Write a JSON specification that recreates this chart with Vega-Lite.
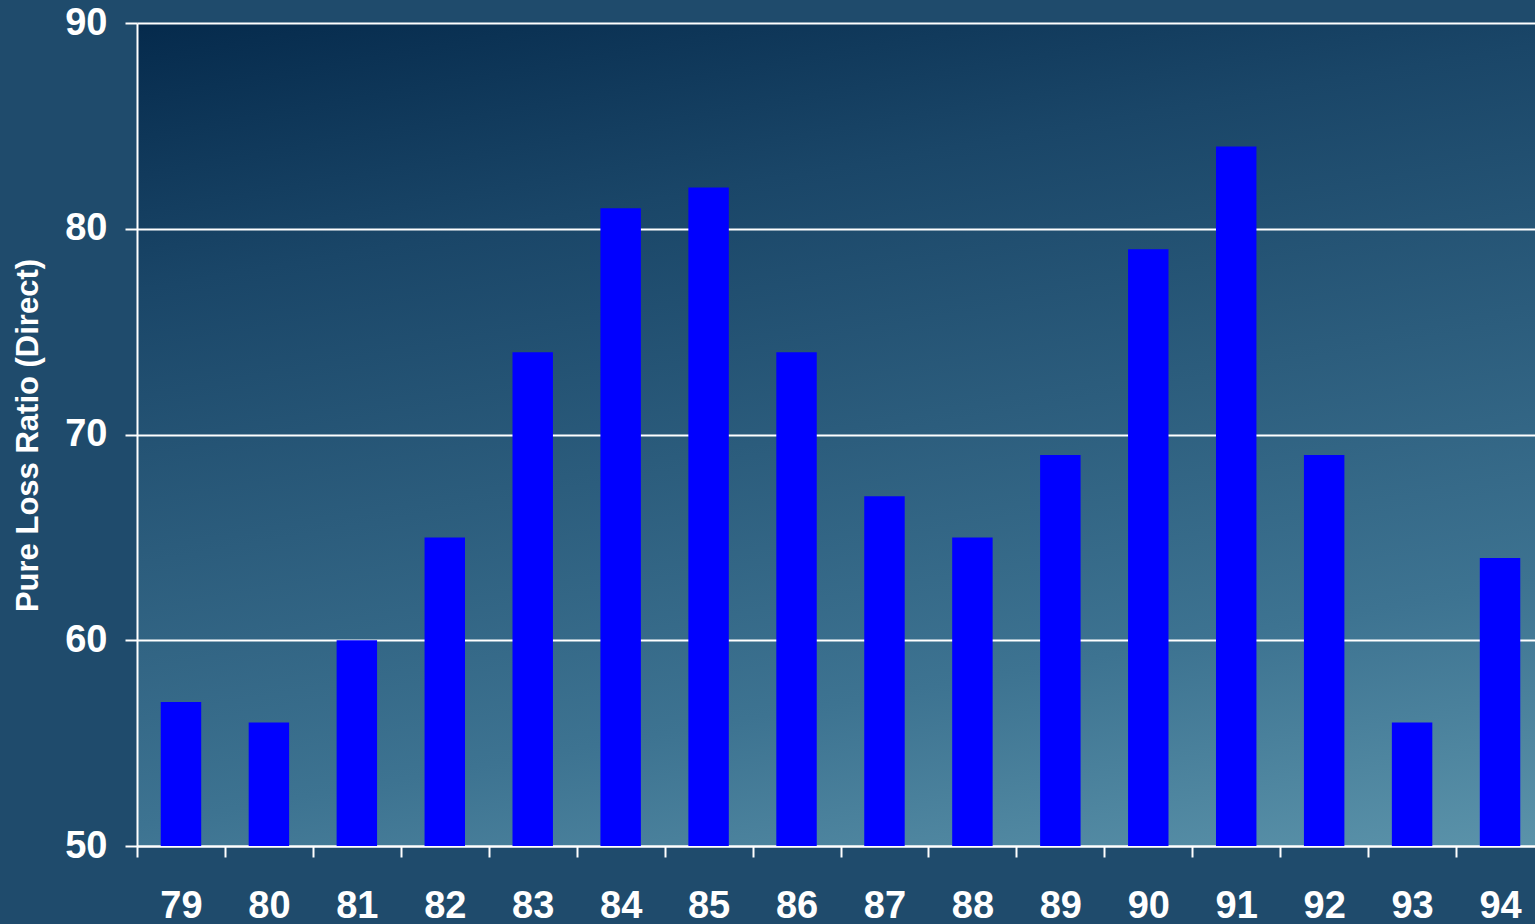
{
  "$schema": "https://vega.github.io/schema/vega-lite/v6.json",
  "autosize": {"type": "none"},
  "padding": {"left": 137, "top": 23, "right": 0, "bottom": 78},
  "width": 1407,
  "height": 823,
  "background": "#1f4b6c",
  "config": {
    "view": {
      "stroke": null,
      "fill": {
        "gradient": "linear",
        "x1": 0, "y1": 0, "x2": 0.358, "y2": 1.193,
        "stops": [
          {"offset": 0, "color": "#052a4c"},
          {"offset": 0.25, "color": "#1a4668"},
          {"offset": 0.75, "color": "#3d7391"},
          {"offset": 1, "color": "#5b93aa"}
        ]
      }
    },
    "font": "Liberation Sans"
  },
  "data": {
    "values": [
      {"year": "79", "ratio": 57},
      {"year": "80", "ratio": 56},
      {"year": "81", "ratio": 60},
      {"year": "82", "ratio": 65},
      {"year": "83", "ratio": 74},
      {"year": "84", "ratio": 81},
      {"year": "85", "ratio": 82},
      {"year": "86", "ratio": 74},
      {"year": "87", "ratio": 67},
      {"year": "88", "ratio": 65},
      {"year": "89", "ratio": 69},
      {"year": "90", "ratio": 79},
      {"year": "91", "ratio": 84},
      {"year": "92", "ratio": 69},
      {"year": "93", "ratio": 56},
      {"year": "94", "ratio": 64}
    ]
  },
  "mark": {"type": "bar", "color": "#0000ff", "width": {"band": 0.46}},
  "encoding": {
    "x": {
      "field": "year",
      "type": "ordinal",
      "sort": null,
      "scale": {"paddingInner": 0, "paddingOuter": 0},
      "axis": {
        "title": null,
        "labelAngle": 0,
        "labelFont": "Liberation Sans",
        "labelFontSize": 38,
        "labelFontWeight": "bold",
        "labelColor": "#ffffff",
        "labelPadding": 30,
        "tickBand": "extent",
        "tickColor": "#ffffff",
        "tickSize": 11,
        "tickWidth": 2,
        "domainColor": "#ffffff",
        "domainWidth": 2,
        "grid": false
      }
    },
    "y": {
      "field": "ratio",
      "type": "quantitative",
      "scale": {"domain": [50, 90], "zero": false, "nice": false},
      "axis": {
        "title": "Pure Loss Ratio (Direct)",
        "values": [50, 60, 70, 80, 90],
        "titleColor": "#ffffff",
        "titleFont": "Liberation Sans",
        "titleFontSize": 31,
        "titleFontWeight": "bold",
        "titleAngle": -90,
        "titleX": -109,
        "titleY": 412,
        "titleAlign": "center",
        "titleBaseline": "middle",
        "labelFont": "Liberation Sans",
        "labelFontSize": 38,
        "labelFontWeight": "bold",
        "labelColor": "#ffffff",
        "labelPadding": 18,
        "tickColor": "#ffffff",
        "tickSize": 12,
        "tickWidth": 2,
        "domainColor": "#ffffff",
        "domainWidth": 2,
        "gridColor": "#ffffff",
        "gridWidth": 2,
        "gridOpacity": 1
      }
    },
    "y2": {"datum": 50}
  }
}
